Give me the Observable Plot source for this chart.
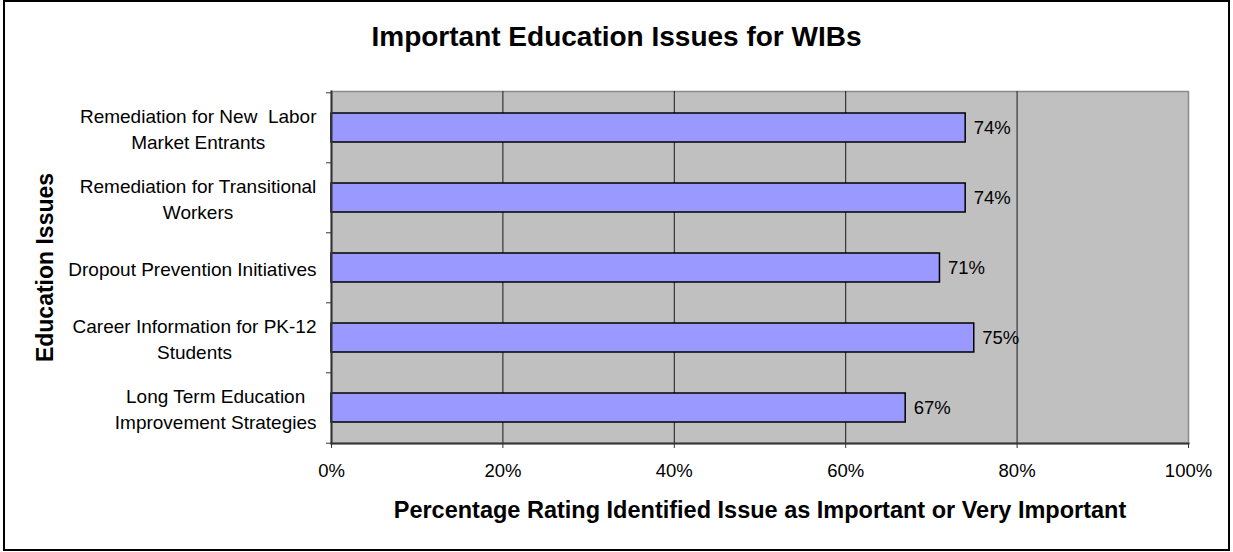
<!DOCTYPE html>
<html><head><meta charset="utf-8">
<script src="https://cdn.jsdelivr.net/npm/d3@7"></script>
<script src="https://cdn.jsdelivr.net/npm/@observablehq/plot@0.6"></script>
<style>
body{margin:0;background:#fff;font-family:"Liberation Sans",Arial,sans-serif;}
#wrap{position:relative;width:1233px;height:552px;overflow:hidden;}
#chart{position:absolute;left:0;top:0;}
#title{position:absolute;left:0;width:1233px;top:20px;text-align:center;font-weight:bold;font-size:28px;line-height:34px;color:#000;}
#border{position:absolute;left:3px;top:0;width:1227px;height:551px;border:2px solid #000;box-sizing:border-box;pointer-events:none;}
</style></head><body>
<div id="wrap"><div id="chart"></div><div id="title">Important Education Issues for WIBs</div><div id="border"></div></div>
<script>
// ---- data ----
const categories = [
  "Remediation for New  Labor\nMarket Entrants",
  "Remediation for Transitional\nWorkers",
  "Dropout Prevention Initiatives",
  "Career Information for PK-12\nStudents",
  "Long Term Education\nImprovement Strategies"
];
const values = [74, 74, 71, 75, 67];
const xTicks = [0, 20, 40, 60, 80, 100];
const gridTicks = [20, 40, 60, 80];
const xTitle = "Percentage Rating Identified Issue as Important or Very Important";
const yTitle = "Education Issues";

// ---- layout ----
const W = 1233, H = 552;
const mL = 331, mR = 45, mT = 91, mB = 109;
const FONT = "Liberation Sans, Arial, sans-serif";
const labelSize = 19;
const step = (H - mT - mB) / categories.length;

const data = categories.map((c, i) => ({category: c, value: values[i]}));

const ctx = document.createElement("canvas").getContext("2d");
ctx.font = `${labelSize}px "Liberation Sans"`;
const blockWidth = s => Math.max(...s.split("\n").map(l => ctx.measureText(l).width));

const labelAxes = categories.map(c => Plot.axisY([c], {
  tickSize: 0, tickPadding: 0, textAnchor: "middle",
  dx: -(15 + blockWidth(c) / 2), fontSize: labelSize, lineHeight: 26 / labelSize,
  fill: "#000", label: null
}));

const chart = Plot.plot({
  width: W, height: H,
  marginLeft: mL, marginRight: mR, marginTop: mT, marginBottom: mB,
  style: {fontFamily: FONT, fontSize: "18.5px", color: "#000", background: "transparent"},
  x: {domain: [0, 100]},
  y: {domain: categories, paddingInner: 0.59, paddingOuter: 0.295},
  marks: [
    Plot.frame({fill: "#C0C0C0", stroke: "#8c8c8c", strokeWidth: 1.5}),
    Plot.ruleX(gridTicks, {stroke: "#1a1a1a", strokeWidth: 1}),
    Plot.barX(data, {x: "value", y: "category", fill: "#9999FF", stroke: "#000", strokeWidth: 1.5}),
    Plot.text(data, {x: "value", y: "category", text: d => d.value + "%", dx: 8, textAnchor: "start", fontSize: 18.5, fill: "#000"}),
    Plot.frame({anchor: "left", stroke: "#333", strokeWidth: 2}),
    Plot.frame({anchor: "bottom", stroke: "#333", strokeWidth: 2}),
    Plot.axisX(xTicks, {tickSize: 5, tickPadding: 15, tickFormat: d => d + "%", fontSize: 18.5, stroke: "#333", fill: "#000", label: null}),
    Plot.axisY(categories, {tickSize: 5, tickFormat: () => "", dy: -step / 2, stroke: "#333", label: null}),
    Plot.axisY([categories[categories.length - 1]], {tickSize: 5, tickFormat: () => "", dy: step / 2, stroke: "#333", label: null}),
    ...labelAxes,
    Plot.text([xTitle], {frameAnchor: "bottom", textAnchor: "middle", lineAnchor: "middle", dy: 66.5, fontSize: 23.5, fontWeight: "bold", fill: "#000"}),
    Plot.text([yTitle], {frameAnchor: "left", textAnchor: "middle", lineAnchor: "middle", rotate: -90, dx: 45.5 - mL, fontSize: 23, fontWeight: "bold", fill: "#000"})
  ]
});
document.getElementById("chart").appendChild(chart);
</script>
</body></html>
